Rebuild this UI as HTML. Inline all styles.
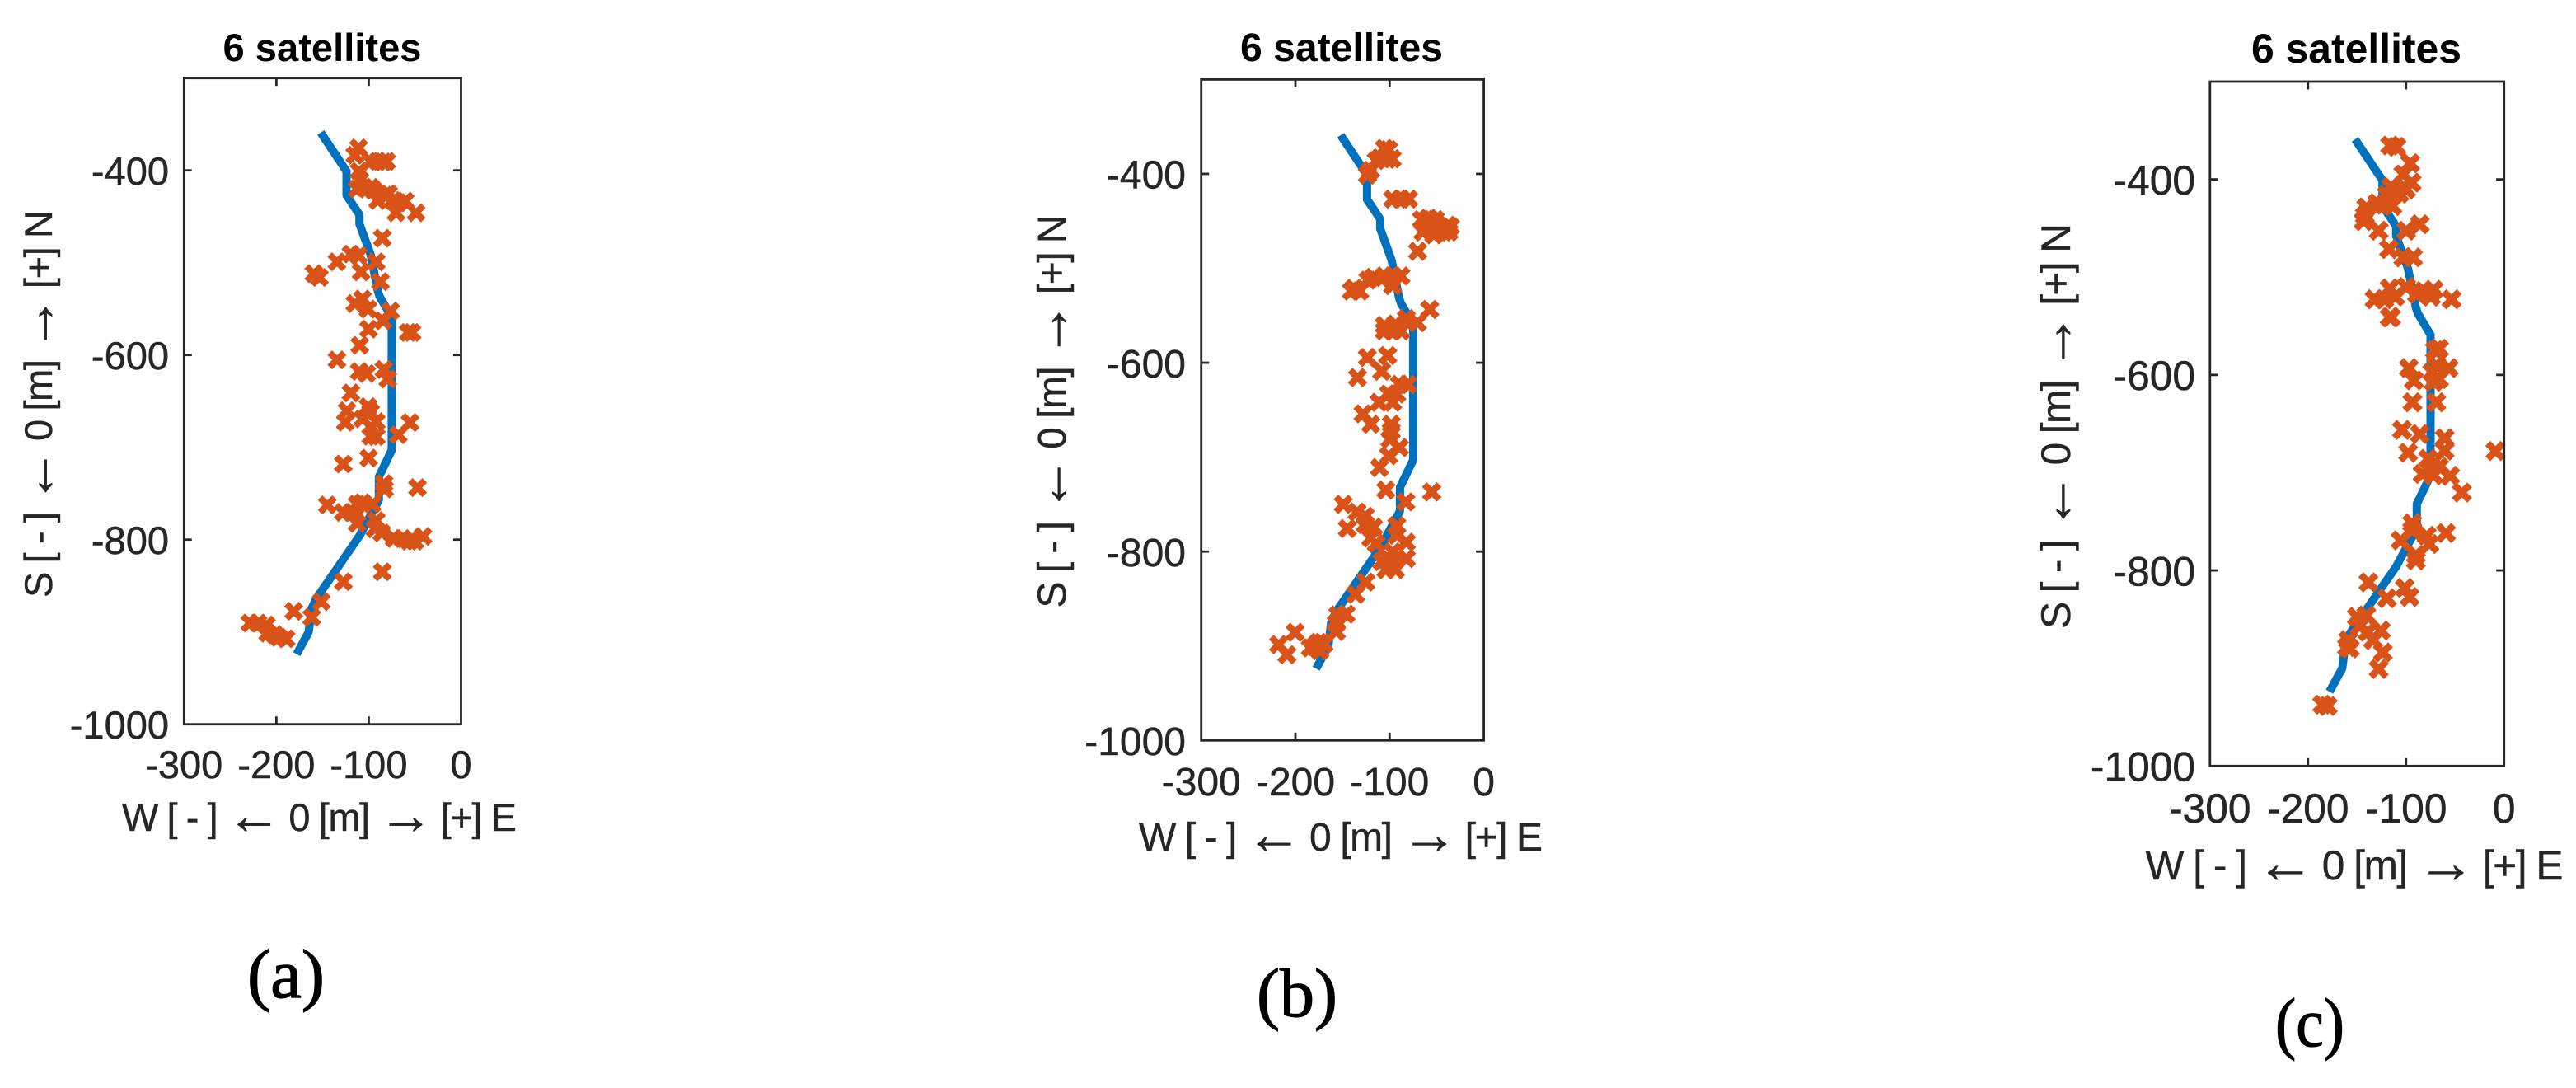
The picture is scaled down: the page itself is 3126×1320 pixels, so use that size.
<!DOCTYPE html>
<html lang="en">
<head>
<meta charset="utf-8">
<title>6 satellites position scatter</title>
<style>
html,body{margin:0;padding:0;background:#fff;width:3126px;height:1320px;overflow:hidden}
svg{display:block}
text{font-family:"Liberation Sans",Arial,sans-serif;fill:#262626}
</style>
</head>
<body>
<svg id="chart" xmlns="http://www.w3.org/2000/svg" width="3126" height="1320" viewBox="0 0 3126 1320"></svg>
<script>
const xTicks = [-300, -200, -100, 0];
const yTicks = [-400, -600, -800, -1000];
const routeEast = [-152,-124,-124,-110,-110,-98,-90,-88,-75,-75,-89,-89,-110,-157,-162,-165,-178];
const routeNorth = [-359,-401,-427,-448,-458,-491,-531,-537,-559,-703,-732,-757,-796,-864,-875,-900,-924];

const fixesEastA = [-111,-115,-98,-90.3,-84.4,-80.5,-110.6,-109.7,-112.6,-105.2,-97.8,-94.8,-90.3,-82.9,-78.4,-74,-68,-60.5,-70.4,-48.7,-85.2,-119.2,-111.1,-134.4,-91.8,-108.2,-159.4,-153.4,-87.3,-115,-106.7,-100.7,-76.3,-84.4,-100.1,-109.7,-57.3,-53.1,-134.4,-110.3,-102.2,-83.5,-79.3,-119.2,-123.6,-100.7,-97.8,-125.4,-106.7,-91.8,-97.2,-55.2,-97.8,-91.8,-68,-100.1,-127.5,-83.5,-82.9,-47.2,-144.8,-112.6,-106.7,-96.3,-127.5,-118.6,-112.6,-112.6,-91.8,-93.3,-85.9,-72.5,-63.5,-56.1,-50.1,-41.2,-85.2,-127.5,-151.3,-181.1,-161.7,-228.7,-219.8,-210.8,-209.4,-201.9,-197.5,-189.4];
const fixesNorthA = [-375.6,-383.6,-390.4,-390.4,-391,-390.4,-400.9,-410.4,-420.2,-418.4,-418.4,-421.4,-432.7,-426.8,-425.3,-432.7,-435,-433.3,-446,-446,-473.5,-490.7,-492.2,-499,-499,-510,-511.9,-516,-520.5,-544.3,-539.3,-550.3,-552.3,-563,-572,-589.5,-575.6,-575.6,-605.3,-617.8,-620.2,-615.7,-626.1,-641,-660.4,-655.9,-661.9,-672.9,-669.3,-672.3,-678.2,-673.2,-688,-688.6,-686.3,-711.6,-718.1,-739.2,-745.2,-743.7,-762.4,-761.6,-760,-761.6,-770.5,-770.5,-772,-782.4,-779.4,-788.3,-792.8,-798.8,-798.8,-801.7,-801.7,-796.4,-834.8,-845.5,-867.2,-877.6,-884.2,-890.4,-890.4,-892.5,-901.4,-902.9,-905.9,-907.4];

const fixesEastB = [-105.5,-101.1,-109.9,-102.6,-97.3,-114.2,-123.6,-120.1,-96.7,-88,-79.8,-66.1,-58.8,-51.5,-38.4,-35.5,-64.7,-55.9,-53,-42.8,-37,-70.2,-96.7,-88,-105.5,-117.1,-123,-137.6,-131.7,-140.5,-96.7,-98.2,-57.4,-70.5,-82.2,-105.5,-93.8,-105.5,-96.7,-88,-123.6,-102,-108.4,-134,-80.7,-89.5,-101.1,-92.4,-111.3,-96.7,-128.2,-120,-98.2,-98.2,-99.7,-89.5,-101.1,-110.7,-104,-55.3,-82.8,-149.2,-134.6,-125.9,-144.9,-125.9,-117.1,-120,-114.2,-92.4,-92.4,-82.2,-82.2,-108.4,-102.6,-93.8,-104,-93.8,-96.7,-125.3,-136.1,-146.3,-155,-156.5,-156.5,-179.9,-184.2,-171.1,-175.5,-174,-169.6,-200.3,-217.8,-209];
const fixesNorthB = [-373,-374.4,-383.1,-384.6,-384,-386,-401.2,-396.2,-426.7,-426.7,-426.7,-448.5,-447.1,-448.5,-454.4,-455.8,-461.6,-458.7,-464.5,-461.6,-461.6,-482,-508.1,-508.1,-508.1,-509.6,-512.5,-521.2,-524.1,-524.1,-518.3,-511,-543.6,-557.6,-553.2,-560.5,-559,-566.3,-566.3,-566.3,-594.5,-592.4,-609,-615.7,-623,-623,-633.1,-633.1,-641.9,-641.9,-654.1,-665.1,-665.1,-672.4,-681.1,-689.8,-698.5,-711,-734.9,-736.9,-747.4,-750,-758.1,-762.5,-775.6,-771.2,-774.1,-785.7,-791.6,-772.7,-782.8,-790.1,-807.5,-810.5,-806.1,-809,-819.2,-819.2,-800.3,-832.3,-845.3,-866.3,-867.1,-875.9,-884.6,-900.6,-902,-896.2,-896.2,-905,-897.7,-885.5,-898.5,-909.3];

const fixesEastC = [-116.2,-109.7,-95.7,-102.7,-94.3,-102.7,-115.3,-111.1,-106.9,-99.9,-119.5,-129.3,-140.5,-141.9,-143.3,-122.3,-113.9,-127.9,-99.9,-85.9,-117.3,-102.7,-92.9,-116.7,-132.1,-122.3,-111.1,-116.7,-115.3,-99.9,-88.7,-81.7,-71.9,-74.7,-53.6,-66.3,-70.5,-69.1,-56.4,-97.1,-92,-73.3,-66.3,-71.9,-93.4,-69.1,-104.1,-85.9,-60.6,-97.9,-60.6,-8.8,-77.5,-74.7,-66.3,-83.1,-71.9,-55,-43,-93.7,-93.7,-59.2,-78.9,-105.5,-76.1,-90,-90,-138.3,-119.5,-101.3,-96.3,-150.3,-140.5,-147.5,-139.1,-158.8,-160.2,-157.4,-125.7,-133.5,-123.7,-127.9,-185.4,-179.8];
const fixesNorthC = [-365.4,-366.8,-383.6,-394.9,-403.3,-407.5,-407.5,-413.2,-414.6,-410.3,-416,-424.4,-428.6,-437,-442.7,-425.8,-427.2,-452.5,-452.5,-446,-471.3,-479.8,-479.8,-511.5,-522.7,-522.7,-519.9,-541,-541,-510.1,-517.1,-514.3,-512.9,-519.9,-522.7,-573.3,-574.7,-590.2,-593,-593,-605.6,-597.2,-604.2,-607,-628.1,-628.1,-656.3,-660.5,-664.7,-679.6,-677.4,-677.9,-685.8,-694.2,-694.2,-701.3,-702.7,-703.2,-720.4,-751.8,-758.9,-761.7,-764.5,-769.3,-772.9,-784.2,-789.8,-812.3,-828.5,-817.9,-827.1,-847.4,-846,-857.2,-862.8,-871.3,-878.3,-879.7,-861.4,-871.3,-883.9,-900.8,-937.3,-938.7];

const NS = 'http://www.w3.org/2000/svg';
const root = document.getElementById('chart');

function make(parent, tag, attrs, content) {
  const el = document.createElementNS(NS, tag);
  for (const k in attrs) el.setAttribute(k, attrs[k]);
  if (content !== undefined) el.textContent = content;
  parent.appendChild(el);
  return el;
}

function labelWithArrows(textEl, parts, fontSize) {
  const big = fontSize * 1.42;
  const shift = fontSize * 0.07;
  parts.forEach(function (part) {
    if (part === '\u2190' || part === '\u2192') {
      make(textEl, 'tspan', { 'font-size':big, dy:shift }, part);
      make(textEl, 'tspan', { dy:-shift }, '\u200b');
    } else {
      make(textEl, 'tspan', {}, part);
    }
  });
}

const panels = [
  { id:'a', left:223.3, right:559.5, top:94.7, bottom:878.7, font:47, titleSize:47, titleX:391, titleY:74, titleLen:241,
    tickY:944, yTickX:205, xLabelX:387.5, xLabelY:1008, xLabelLen:479, yLabelX:63, yLabelY:490, yLabelLen:470,
    capX:347, capY:1210, capLen:94, cap:'(a)', east:fixesEastA, north:fixesNorthA },
  { id:'b', left:1457.7, right:1800.6, top:96.4, bottom:898.3, font:48, titleSize:48, titleX:1628, titleY:74, titleLen:246,
    tickY:965, yTickX:1439, xLabelX:1627, xLabelY:1032, xLabelLen:490, yLabelX:1293, yLabelY:499, yLabelLen:477,
    capX:1574, capY:1233, capLen:98, cap:'(b)', east:fixesEastB, north:fixesNorthB },
  { id:'c', left:2681.8, right:3038.7, top:99, bottom:929.3, font:49.7, titleSize:50, titleX:2859.5, titleY:76, titleLen:255,
    tickY:998, yTickX:2664, xLabelX:2857, xLabelY:1067, xLabelLen:507, yLabelX:2512, yLabelY:517, yLabelLen:492,
    capX:2803, capY:1269, capLen:84, cap:'(c)', east:fixesEastC, north:fixesNorthC }
];

panels.forEach(function (p) {
  const xMin = -300, xMax = 0, yMin = -1000, yMax = -300;
  const sx = v => p.left + (v - xMin) / (xMax - xMin) * (p.right - p.left);
  const sy = v => p.bottom - (v - yMin) / (yMax - yMin) * (p.bottom - p.top);
  const scale = (p.right - p.left) / 336.2;

  const g = make(root, 'g', {});
  
  

  const title = make(g, 'text', { x:p.titleX, y:p.titleY, 'text-anchor':'middle', 'font-size':p.titleSize, 'font-weight':'bold', style:'fill:#000', textLength:p.titleLen, lengthAdjust:'spacingAndGlyphs' }, '6 satellites');
  
  

  const route = make(g, 'polyline', {
    points: routeEast.map((e, i) => sx(e).toFixed(1) + ',' + sy(routeNorth[i]).toFixed(1)).join(' '),
    fill:'none', stroke:'#0072BD', 'stroke-width':10, 'stroke-linejoin':'round'
  });
  
  

  const markers = make(g, 'g', { stroke:'#D95319', 'stroke-width':8 * scale, fill:'none' });
  
  
  const d = 8.8 * scale;
  p.east.forEach(function (e, i) {
    const cx = sx(e), cy = sy(p.north[i]);
    const m = make(markers, 'path', { d: 'M' + (cx-d).toFixed(1) + ' ' + (cy-d).toFixed(1) + 'L' + (cx+d).toFixed(1) + ' ' + (cy+d).toFixed(1) + 'M' + (cx-d).toFixed(1) + ' ' + (cy+d).toFixed(1) + 'L' + (cx+d).toFixed(1) + ' ' + (cy-d).toFixed(1) });
    
    
  });

  const frame = make(g, 'rect', { x:p.left, y:p.top, width:p.right-p.left, height:p.bottom-p.top, fill:'none', stroke:'#262626', 'stroke-width':2.8 });
  
  

  const tl = 9.5;
  xTicks.forEach(function (v) {
    const x = sx(v);
    if (v !== xMin && v !== xMax) {
      const t1 = make(g, 'line', { x1:x, x2:x, y1:p.bottom, y2:p.bottom - tl, stroke:'#262626', 'stroke-width':2.8 });
      
      
      const t2 = make(g, 'line', { x1:x, x2:x, y1:p.top, y2:p.top + tl, stroke:'#262626', 'stroke-width':2.8 });
      
      
    }
    const label = make(g, 'text', { x:x, y:p.tickY, 'text-anchor':'middle', 'font-size':p.font, stroke:'#262626', 'stroke-width':0.5 }, String(v));
    
    
  });
  yTicks.forEach(function (v) {
    const y = sy(v);
    if (v !== yMin) {
      const t1 = make(g, 'line', { x1:p.left, x2:p.left + tl, y1:y, y2:y, stroke:'#262626', 'stroke-width':2.8 });
      
      
      const t2 = make(g, 'line', { x1:p.right, x2:p.right - tl, y1:y, y2:y, stroke:'#262626', 'stroke-width':2.8 });
      
      
    }
    const label = make(g, 'text', { x:p.yTickX, y:y + p.font * 0.37, 'text-anchor':'end', 'font-size':p.font, stroke:'#262626', 'stroke-width':0.5 }, String(v));
    
    
  });

  const xTitle = make(g, 'text', { x:p.xLabelX, y:p.xLabelY, 'text-anchor':'middle', 'font-size':p.font, stroke:'#262626', 'stroke-width':0.4, textLength:p.xLabelLen, lengthAdjust:'spacing' });
  labelWithArrows(xTitle, ['W [ - ] ', '\u2190', ' 0 [m] ', '\u2192', ' [+] E'], p.font);
  
  

  const yTitle = make(g, 'text', { x:0, y:0, transform:'translate(' + p.yLabelX + ' ' + p.yLabelY + ') rotate(-90)', 'text-anchor':'middle', 'font-size':p.font, stroke:'#262626', 'stroke-width':0.4, textLength:p.yLabelLen, lengthAdjust:'spacing' });
  labelWithArrows(yTitle, ['S [ - ] ', '\u2190', ' 0 [m] ', '\u2192', ' [+] N'], p.font);
  
  

  const caption = make(g, 'text', { x:p.capX, y:p.capY, 'text-anchor':'middle', 'font-size':84, stroke:'#000', 'stroke-width':1.2, style:'font-family:"Liberation Serif",serif;fill:#000', textLength:p.capLen, lengthAdjust:'spacingAndGlyphs' }, p.cap);
  
  
});
</script>
</body>
</html>
